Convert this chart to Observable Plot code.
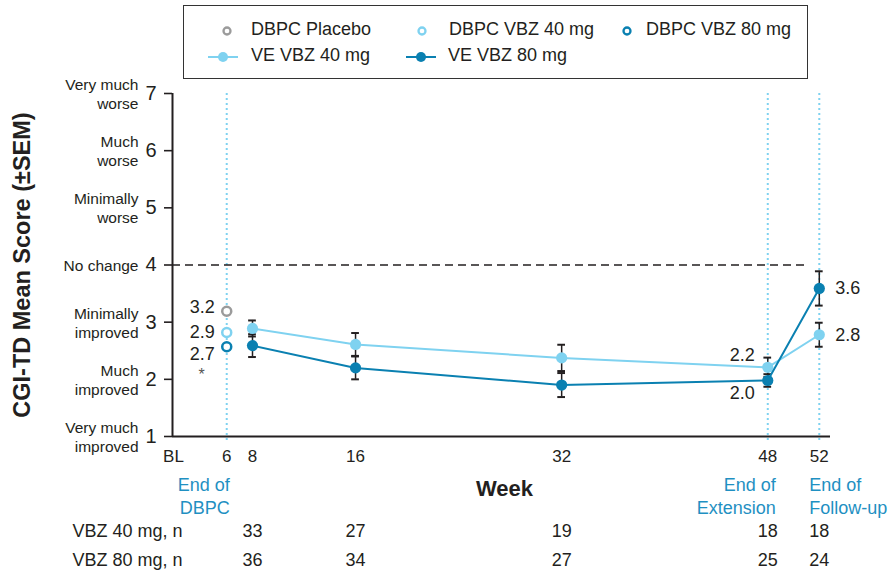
<!DOCTYPE html>
<html><head><meta charset="utf-8">
<script src="https://cdn.jsdelivr.net/npm/d3@7"></script>
<script src="https://cdn.jsdelivr.net/npm/@observablehq/plot@0.6"></script>
<style>
body{margin:0;background:#fff;font-family:"Liberation Sans",Arial,sans-serif;color:#231f20}
#wrap{position:relative;width:890px;height:576px;overflow:hidden}
#wrap svg.plot{position:absolute;left:0;top:0}
#legend{position:absolute;left:183px;top:5px;width:623px;height:72px;border:1.5px solid #333}
.li{position:absolute;font-size:18px;line-height:20px;white-space:nowrap;color:#231f20}
.sw{position:absolute}
</style></head><body><div id="wrap"></div>
<script>
// ---------- data ----------
const weeks = [8, 16, 32, 48, 52];
const ve40 = [2.89, 2.61, 2.375, 2.21, 2.78];
const ve40sem = [0.14, 0.20, 0.23, 0.17, 0.21];
const ve80 = [2.59, 2.20, 1.90, 1.98, 3.59];
const ve80sem = [0.20, 0.20, 0.21, 0.11, 0.30];
const dbpcGroups = ["DBPC Placebo", "DBPC VBZ 40 mg", "DBPC VBZ 80 mg"];
const dbpcWeek = 6;
const dbpcValues = [3.19, 2.82, 2.57];
const dbpcLabels = ["3.2", "2.9", "2.7"];
const veGroups = ["VE VBZ 40 mg", "VE VBZ 80 mg"];
const n40 = [33, 27, 19, 18, 18];
const n80 = [36, 34, 27, 25, 24];
const nRowLabels = ["VBZ 40 mg, n", "VBZ 80 mg, n"];
const yTicks = [1, 2, 3, 4, 5, 6, 7];
const yTickLabels = ["Very much\nimproved", "Much\nimproved", "Minimally\nimproved", "No change",
  "Minimally\nworse", "Much\nworse", "Very much\nworse"];
const xTickWeeks = [6, 8, 16, 32, 48, 52];
const baselineLabel = "BL";
const milestoneWeeks = [6, 48, 52];
const milestoneLabels = ["End of\nDBPC", "End of\nExtension", "End of\nFollow-up"];
const noChange = 4;
const yTitle = "CGI-TD Mean Score (±SEM)";
const xTitle = "Week";

// ---------- style ----------
const C_LIGHT = "#7fd2f0", C_DARK = "#0a80b1", C_GRAY = "#9b9b9b", C_INK = "#231f20", C_LABEL = "#1f90c2";
const dbpcColors = [C_GRAY, C_LIGHT, C_DARK];
const FONT = '"Liberation Sans", Arial, Helvetica, sans-serif';
const xmin = 1.79, xmax = 52.87;

const rows40 = weeks.map((w, i) => ({week: w, v: ve40[i], lo: ve40[i] - ve40sem[i], hi: ve40[i] + ve40sem[i]}));
const rows80 = weeks.map((w, i) => ({week: w, v: ve80[i], lo: ve80[i] - ve80sem[i], hi: ve80[i] + ve80sem[i]}));
const dbpc = dbpcGroups.map((g, i) => ({group: g, week: dbpcWeek, v: dbpcValues[i], label: dbpcLabels[i]}));
const allErr = rows40.concat(rows80);
const capHalf = 0.3;
const f1 = d3.format(".1f");

const dbpcLabelDy = [-4, 0, 7];
const milestoneAnchor = ["end", "end", "start"];
const milestoneDx = [3, 8, -10];

const marks = [
  // milestone dotted lines
  Plot.ruleX(milestoneWeeks, {x: d => d, y1: 7, y2: 0.9, stroke: C_LIGHT, strokeWidth: 2, strokeDasharray: "2,3"}),
  // no-change line
  Plot.ruleY([noChange], {y: d => d, x1: xmin, x2: 51.2, stroke: C_INK, strokeWidth: 1.7, strokeDasharray: "8,5"}),
  // axes lines
  Plot.ruleX([xmin], {x: d => d, y1: 1, y2: 7, stroke: C_INK, strokeWidth: 2}),
  Plot.ruleY([1], {y: d => d, x1: xmin, x2: xmax, stroke: C_INK, strokeWidth: 2}),
  Plot.axisY({ticks: yTicks, tickSize: 8, tickPadding: 8, fontSize: 20, tickFormat: d => d, label: null, stroke: C_INK, strokeWidth: 1.6}),
  Plot.text(yTicks, {x: xmin, y: d => d, text: (d, i) => yTickLabels[i], textAnchor: "end", dx: -34,
    fontSize: 15.5, lineHeight: 1.22, lineAnchor: "middle", fill: C_INK}),
  Plot.text([yTitle], {frameAnchor: "left", dx: -150, rotate: -90, textAnchor: "middle", lineAnchor: "middle",
    text: d => d, fontWeight: "bold", fontSize: 23.5, fill: C_INK}),
  // x tick labels
  Plot.text(xTickWeeks, {x: d => d, frameAnchor: "bottom", dy: 25, text: d => d, fontSize: 17, fill: C_INK}),
  Plot.text([baselineLabel], {x: xmin, frameAnchor: "bottom", dy: 25, dx: 1, text: d => d, fontSize: 17, fill: C_INK}),
  Plot.text([xTitle], {frameAnchor: "bottom", dy: 59, dx: 3, text: d => d, fontWeight: "bold", fontSize: 22, fill: C_INK}),
  // n table
  Plot.text(weeks, {x: d => d, frameAnchor: "bottom", dy: 100, text: (d, i) => n40[i], fontSize: 18, fill: C_INK}),
  Plot.text(weeks, {x: d => d, frameAnchor: "bottom", dy: 129, text: (d, i) => n80[i], fontSize: 18, fill: C_INK}),
  Plot.text([nRowLabels[0]], {x: xmin, frameAnchor: "bottom", dy: 100, dx: -100, textAnchor: "start", text: d => d, fontSize: 18, fill: C_INK}),
  Plot.text([nRowLabels[1]], {x: xmin, frameAnchor: "bottom", dy: 129, dx: -100, textAnchor: "start", text: d => d, fontSize: 18, fill: C_INK}),
  // error bars
  Plot.ruleX(allErr, {x: "week", y1: "lo", y2: "hi", stroke: C_INK, strokeWidth: 1.5}),
  Plot.ruleY(allErr, {y: "hi", x1: d => d.week - capHalf, x2: d => d.week + capHalf, stroke: C_INK, strokeWidth: 2}),
  Plot.ruleY(allErr, {y: "lo", x1: d => d.week - capHalf, x2: d => d.week + capHalf, stroke: C_INK, strokeWidth: 2}),
  // VE series
  Plot.line(rows40, {x: "week", y: "v", stroke: C_LIGHT, strokeWidth: 2}),
  Plot.dot(rows40, {x: "week", y: "v", r: 5.6, fill: C_LIGHT}),
  Plot.line(rows80, {x: "week", y: "v", stroke: C_DARK, strokeWidth: 2}),
  Plot.dot(rows80, {x: "week", y: "v", r: 5.6, fill: C_DARK}),
  // DBPC open circles
  Plot.dot(dbpc, {x: "week", y: "v", r: 4.5, stroke: (d, i) => dbpcColors[i], strokeWidth: 2.5, fill: "white"}),
  // value labels
  Plot.text([rows40[3]], {x: "week", y: "v", text: d => f1(d.v), textAnchor: "end", dx: -13, dy: -12, fontSize: 18, fill: C_INK}),
  Plot.text([rows80[3]], {x: "week", y: "v", text: d => f1(d.v), textAnchor: "end", dx: -13, dy: 13, fontSize: 18, fill: C_INK}),
  Plot.text([rows40[4], rows80[4]], {x: "week", y: "v", text: d => f1(d.v), textAnchor: "start", dx: 16, fontSize: 18, fill: C_INK}),
  Plot.text([dbpc[2]], {x: "week", y: "v", text: d => "*", dx: -25, dy: 28, fontSize: 16, fill: "#555"})
];
dbpc.forEach((d, i) => {
  marks.push(Plot.text([d], {x: "week", y: "v", text: "label", textAnchor: "end", dx: -12, dy: dbpcLabelDy[i], fontSize: 18, fill: C_INK}));
});
milestoneWeeks.forEach((w, i) => {
  marks.push(Plot.text([milestoneLabels[i]], {x: w, frameAnchor: "bottom", dy: 58.5, dx: milestoneDx[i], textAnchor: milestoneAnchor[i],
    text: d => d, fontSize: 18, lineHeight: 1.28, lineAnchor: "middle", fill: C_LABEL}));
});

const plot = Plot.plot({
  width: 890, height: 576,
  marginLeft: 172, marginRight: 60, marginTop: 93, marginBottom: 140,
  x: {domain: [xmin, xmax], axis: null},
  y: {domain: [1, 7], axis: null},
  color: {type: "identity"},
  style: {fontFamily: FONT, fontSize: "17px", color: C_INK, background: "transparent", overflow: "visible"},
  marks
});
plot.classList.add("plot");
const wrap = document.getElementById("wrap");
wrap.appendChild(plot);

// ---------- legend (HTML) ----------
const legend = document.createElement("div");
legend.id = "legend";
wrap.appendChild(legend);
function openCircle(color) {
  return `<svg width="12" height="12"><circle cx="6" cy="6" r="3.5" fill="white" stroke="${color}" stroke-width="2.3"/></svg>`;
}
function lineDot(color) {
  return `<svg width="32" height="12"><line x1="0" y1="6" x2="30" y2="6" stroke="${color}" stroke-width="2"/><circle cx="15" cy="6" r="5" fill="${color}"/></svg>`;
}
const legendItems = [
  {html: openCircle(dbpcColors[0]), sx: 221, sy: 23, tx: 251, ty: 19, text: dbpcGroups[0]},
  {html: openCircle(dbpcColors[1]), sx: 416, sy: 23, tx: 449, ty: 19, text: dbpcGroups[1]},
  {html: openCircle(dbpcColors[2]), sx: 621, sy: 23, tx: 646, ty: 19, text: dbpcGroups[2]},
  {html: lineDot(C_LIGHT), sx: 208, sy: 49, tx: 251, ty: 45, text: veGroups[0]},
  {html: lineDot(C_DARK), sx: 406, sy: 49, tx: 448, ty: 45, text: veGroups[1]}
];
legendItems.forEach(it => {
  const s = document.createElement("div");
  s.className = "sw"; s.style.left = it.sx + "px"; s.style.top = it.sy + "px"; s.innerHTML = it.html;
  wrap.appendChild(s);
  const t = document.createElement("div");
  t.className = "li"; t.style.left = it.tx + "px"; t.style.top = it.ty + "px"; t.textContent = it.text;
  wrap.appendChild(t);
});
</script>
</body></html>
